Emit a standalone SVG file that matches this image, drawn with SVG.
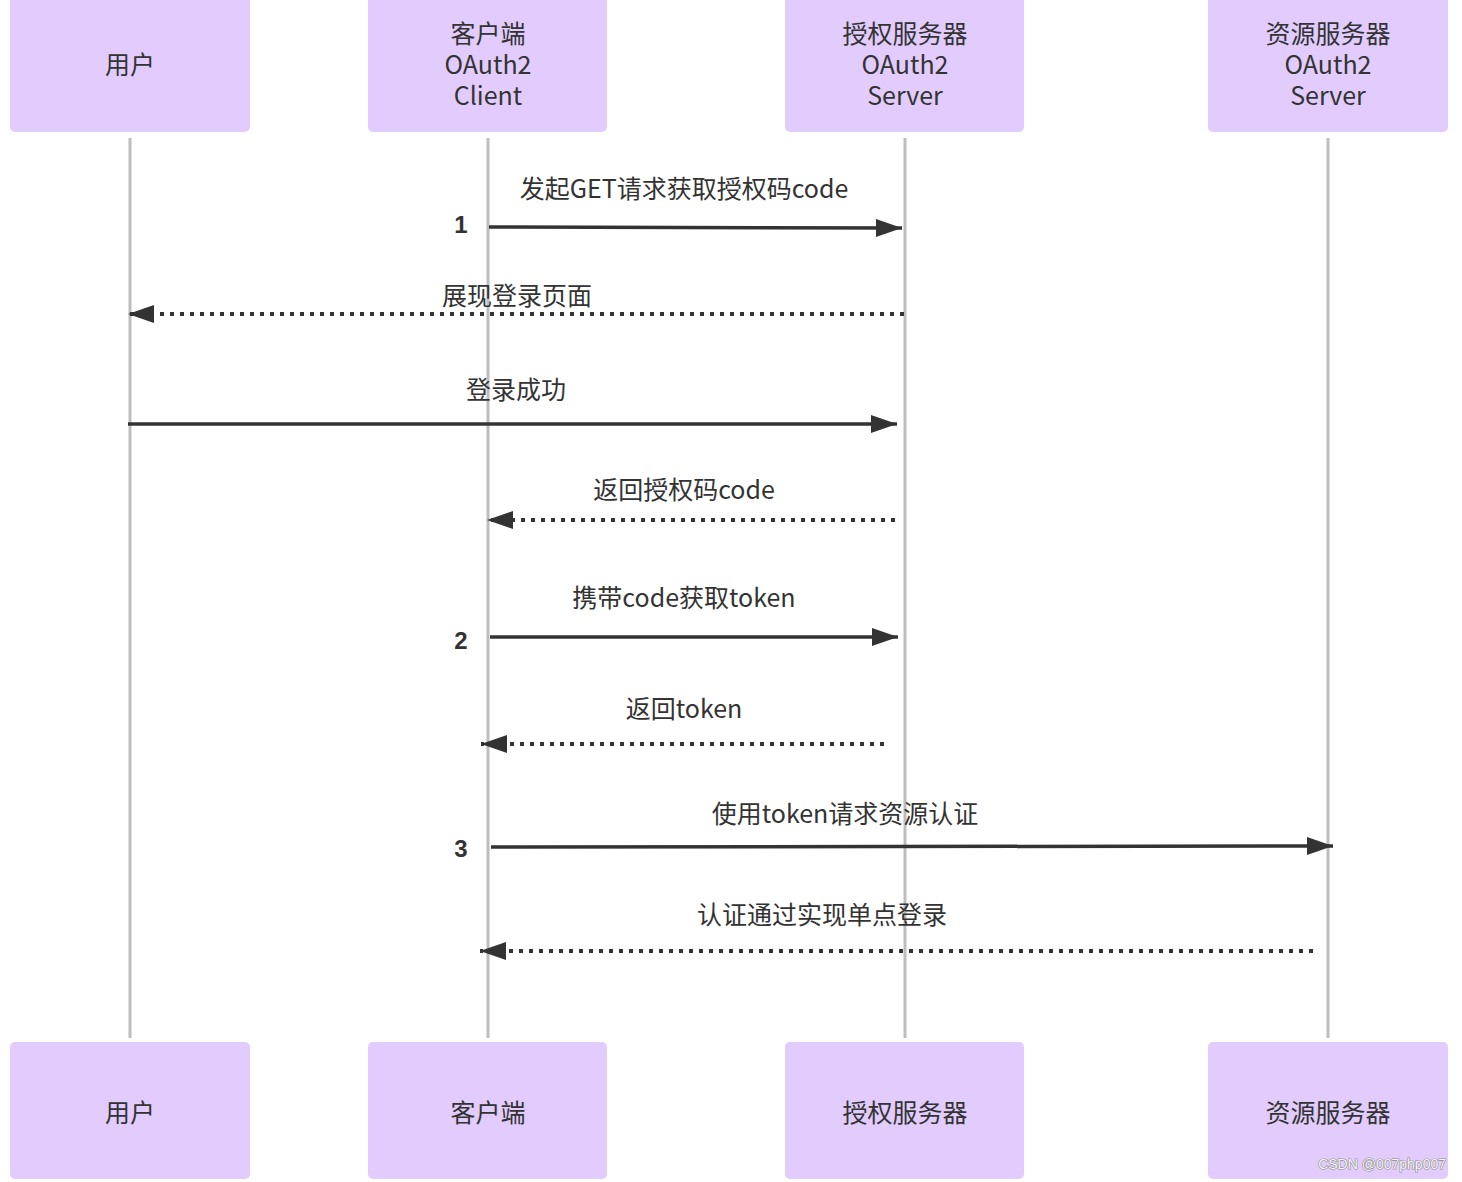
<svg xmlns="http://www.w3.org/2000/svg" width="1462" height="1182" viewBox="0 0 1462 1182">
<style>
.box{fill:#e2ccfe;}
.t{font-family:"Noto Sans CJK SC","Liberation Sans",sans-serif;font-size:25px;fill:#333;text-anchor:middle;dominant-baseline:central;}
.num{font-family:"Liberation Sans","Noto Sans CJK SC",sans-serif;font-size:24px;font-weight:bold;fill:#333;text-anchor:middle;dominant-baseline:central;}
.life{stroke:#bdbdbd;stroke-width:3;fill:none;}
.solid{stroke:#333;stroke-width:3.5;fill:none;marker-end:url(#ah);}
.dot{stroke:#333;stroke-width:4;fill:none;stroke-dasharray:4 6;marker-end:url(#ah);}
.wm{font-family:"Liberation Sans",sans-serif;font-size:14px;fill:#f4f4f4;stroke:#8c8c8c;stroke-width:1.2;paint-order:stroke;}
</style>
<defs>
<marker id="ah" markerUnits="userSpaceOnUse" markerWidth="30" markerHeight="22" refX="26" refY="10" orient="auto">
<path d="M0,1 L26,10 L0,19 Z" fill="#333"/>
</marker>
</defs>
<rect width="1462" height="1182" fill="#ffffff"/>
<g id="lifelines">
<line class="life" x1="130" y1="138" x2="130" y2="1038"/>
<line class="life" x1="488" y1="138" x2="488" y2="1038"/>
<line class="life" x1="905" y1="138" x2="905" y2="1038"/>
<line class="life" x1="1328" y1="138" x2="1328" y2="1038"/>
</g>
<g id="user-top"><rect class="box" x="10" y="-6" width="240" height="138" rx="5"/><text class="t" x="130" y="63">用户</text></g>
<g id="client-top"><rect class="box" x="368" y="-6" width="239" height="138" rx="5"/><text class="t" x="488" y="32">客户端</text><text class="t" x="488" y="63">OAuth2</text><text class="t" x="488" y="94">Client</text></g>
<g id="auth-top"><rect class="box" x="785" y="-6" width="239" height="138" rx="5"/><text class="t" x="905" y="32">授权服务器</text><text class="t" x="905" y="63">OAuth2</text><text class="t" x="905" y="94">Server</text></g>
<g id="res-top"><rect class="box" x="1208" y="-6" width="240" height="138" rx="5"/><text class="t" x="1328" y="32">资源服务器</text><text class="t" x="1328" y="63">OAuth2</text><text class="t" x="1328" y="94">Server</text></g>
<g id="user-bottom"><rect class="box" x="10" y="1042" width="240" height="137" rx="5"/><text class="t" x="130" y="1111">用户</text></g>
<g id="client-bottom"><rect class="box" x="368" y="1042" width="239" height="137" rx="5"/><text class="t" x="488" y="1111">客户端</text></g>
<g id="auth-bottom"><rect class="box" x="785" y="1042" width="239" height="137" rx="5"/><text class="t" x="905" y="1111">授权服务器</text></g>
<g id="res-bottom"><rect class="box" x="1208" y="1042" width="240" height="137" rx="5"/><text class="t" x="1328" y="1111">资源服务器</text></g>
<g id="connectors">
<line class="solid" x1="489" y1="227" x2="902" y2="228"/>
<line class="dot" x1="904" y1="314" x2="128" y2="314"/>
<line class="solid" x1="128" y1="424" x2="897" y2="424"/>
<line class="dot" x1="895" y1="520" x2="487" y2="520"/>
<line class="solid" x1="490" y1="637" x2="898" y2="637"/>
<line class="dot" x1="884" y1="744" x2="481" y2="744"/>
<line class="solid" x1="491" y1="847" x2="1333" y2="846"/>
<line class="dot" x1="1313" y1="951" x2="480" y2="951"/>
</g>
<g id="labels">
<text class="t" x="684" y="187">发起GET请求获取授权码code</text>
<text class="num" x="461" y="224">1</text>
<text class="t" x="517" y="294">展现登录页面</text>
<text class="t" x="516" y="388">登录成功</text>
<text class="t" x="684" y="488">返回授权码code</text>
<text class="t" x="684" y="596">携带code获取token</text>
<text class="num" x="461" y="640">2</text>
<text class="t" x="684" y="707">返回token</text>
<text class="t" x="845" y="812">使用token请求资源认证</text>
<text class="num" x="461" y="848">3</text>
<text class="t" x="822" y="913">认证通过实现单点登录</text>
</g>
<text class="wm" x="1446" y="1169" text-anchor="end">CSDN @007php007</text>
</svg>
